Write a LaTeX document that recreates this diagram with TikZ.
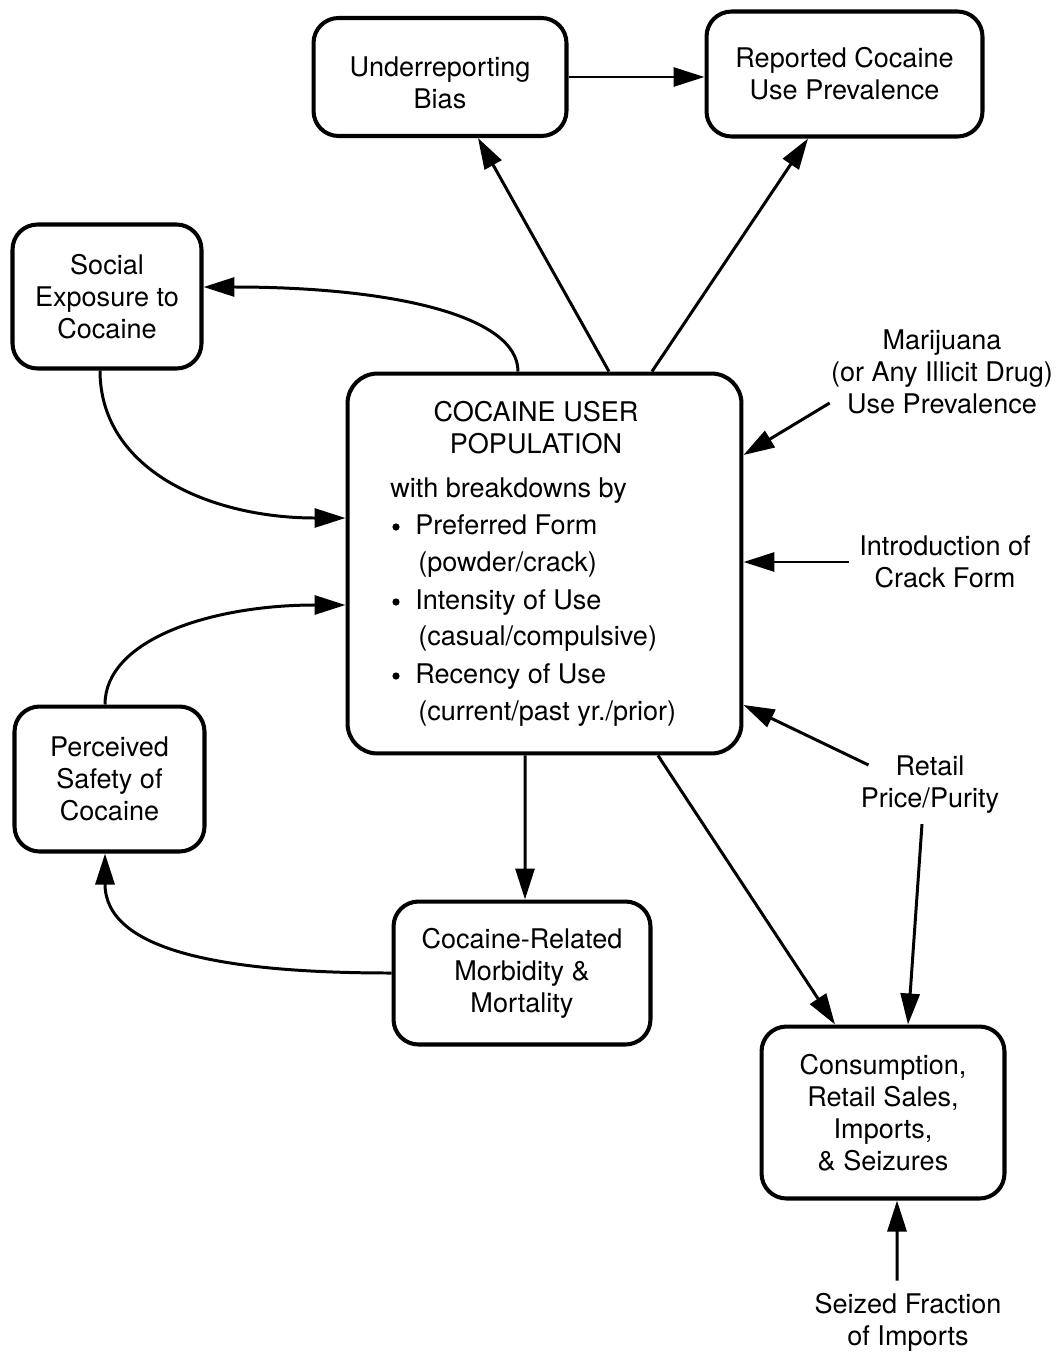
\documentclass[tikz,border=0pt]{standalone}
\usepackage{fontspec}
\setmainfont{TeX Gyre Heros}
\usetikzlibrary{arrows.meta}
\begin{document}
\begin{tikzpicture}[x=0.02cm,y=-0.02cm,
  every node/.style={font=\fontsize{15.4}{18.2}\selectfont},
  box/.style={draw, line width=2.3pt, rounded corners=0.5cm, align=center, inner sep=0pt},
  lab/.style={align=center, inner sep=0.2cm},
  txt/.style={anchor=base west, inner sep=0pt},
  arr/.style={line width=1.7pt, -{Triangle[length=0.62cm,width=0.38cm]}}
]
\useasboundingbox (0,0) rectangle (1059,1355);
% boxes
\node[box, minimum width=5.06cm, minimum height=2.36cm] (ub) at (440,77) {\rule{0pt}{0.64cm}Underreporting\\Bias};
\node[box, minimum width=5.52cm, minimum height=2.5cm] (rp) at (844.5,74) {Reported Cocaine\\Use Prevalence};
\node[box, minimum width=3.78cm, minimum height=2.88cm] (se) at (107,296.5) {Social\\Exposure to\\Cocaine};
\node[box, minimum width=7.88cm, minimum height=7.6cm, rounded corners=0.6cm] (pop) at (544.5,563.5) {};
\node[box, minimum width=3.8cm, minimum height=2.9cm] (ps) at (109.5,779) {Perceived\\Safety of\\Cocaine};
\node[box, minimum width=5.14cm, minimum height=2.86cm] (mm) at (522,973) {Cocaine-Related\\Morbidity \&\\Mortality};
\node[box, minimum width=4.86cm, minimum height=3.44cm] (cs) at (883,1112.5) {Consumption,\\Retail Sales,\\Imports,\\\& Seizures};
% population contents
\node[align=center, inner sep=0pt] (pt) at (536,427.5) {COCAINE USER\\POPULATION};
\node[txt] (p1) at (390,497) {with breakdowns by};
\node[txt] (p2) at (415,534) {Preferred Form};
\node[txt] (p3) at (418,571) {(powder/crack)};
\node[txt] (p4) at (415,609) {Intensity of Use};
\node[txt] (p5) at (418,645) {(casual/compulsive)};
\node[txt] (p6) at (415,683) {Recency of Use};
\node[txt] (p7) at (418,720) {(current/past yr./prior)};
\fill (396,527) circle (3.6);
\fill (396,602) circle (3.6);
\fill (396,676) circle (3.6);
% plain labels
\node[lab] (mj) at (942,372) {Marijuana\\(or Any Illicit Drug)\\Use Prevalence};
\node[lab] (cr) at (945,562) {Introduction of\\Crack Form};
\node[lab] (rt) at (930,785) {Retail\\Price/Purity};
\node[lab] (sz) at (908,1322) {Seized Fraction\\of Imports};
% straight connectors
\draw[arr] (ub.east) -- (ub.east -| rp.west);
\draw[arr] ([xshift=1.29cm]pop.north) -- ([xshift=0.76cm]ub.south);
\draw[arr] ([xshift=2.15cm]pop.north) -- ([xshift=-0.73cm]rp.south);
\draw[arr] ([xshift=-0.39cm]pop.south) -- ([xshift=0.06cm]mm.north);
\draw[arr] ([xshift=2.27cm]pop.south) -- ([xshift=-0.96cm]cs.north);
\draw[arr] ([xshift=-0.16cm]rt.south) -- ([xshift=0.5cm]cs.north);
\draw[arr] ([shift={(0.36cm,0.4cm)}]rt.west) -- ([yshift=-2.83cm]pop.east);
\draw[arr] (cr.west) -- (cr.west -| pop.east);
\draw[arr] ([shift={(0.18cm,-0.62cm)}]mj.west) -- ([yshift=2.17cm]pop.east);
\draw[arr] ([shift={(-0.22cm,0.04cm)}]sz.north) -- ([xshift=0.28cm]cs.south);
% curved connectors
\draw[arr] ([xshift=-0.53cm]pop.north) .. controls (518,315) and (390,287) .. ([yshift=0.19cm]se.east);
\draw[arr] ([xshift=-0.14cm]se.south) .. controls (100,470) and (210,518) .. ([yshift=0.91cm]pop.west);
\draw[arr] ([xshift=-0.09cm]ps.north) .. controls (105,640) and (210,605) .. ([yshift=-0.83cm]pop.west);
\draw[arr] (mm.west) .. controls (220,973) and (105,950) .. ([xshift=-0.09cm]ps.south);
\end{tikzpicture}
\end{document}
